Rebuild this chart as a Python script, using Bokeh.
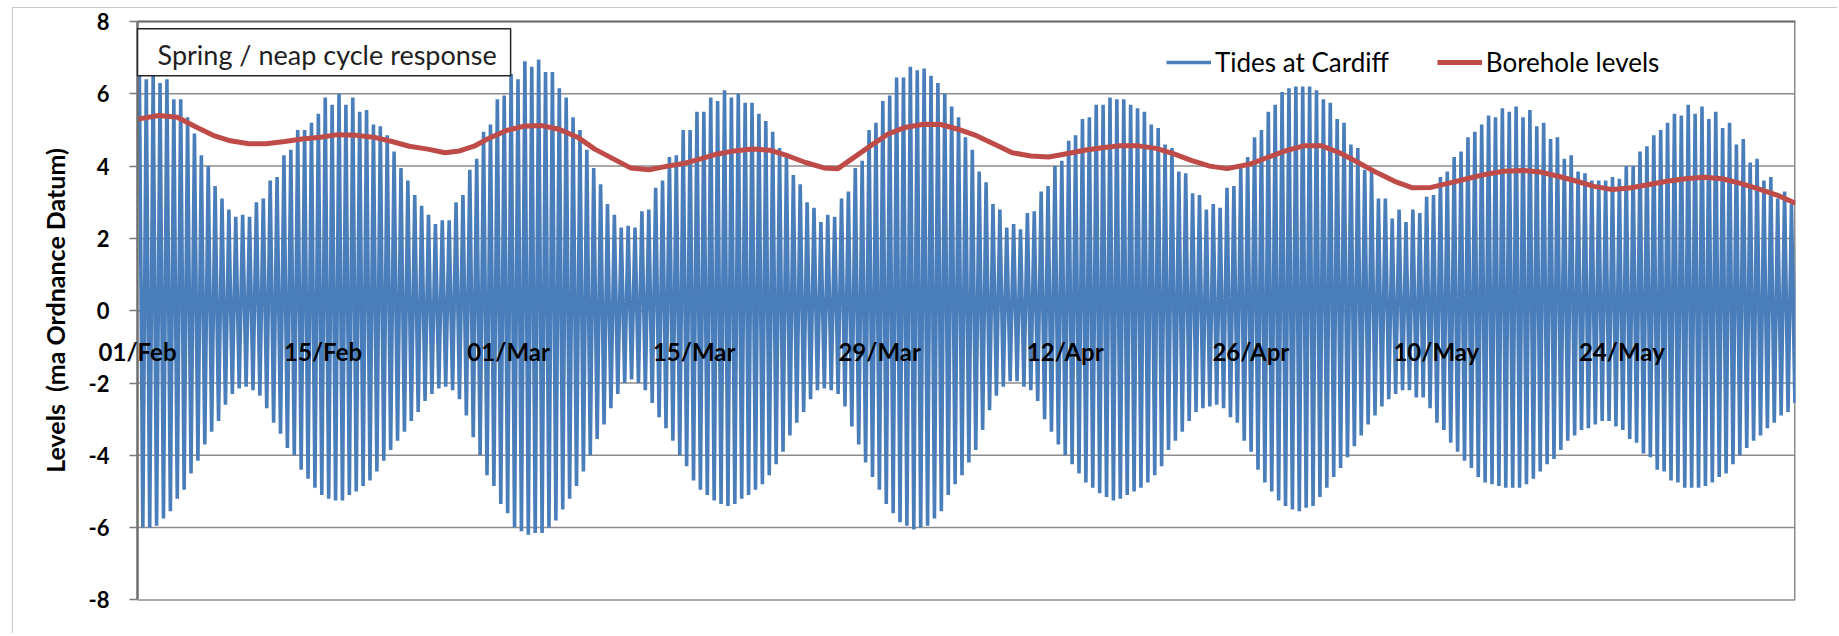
import numpy as np
from bokeh.plotting import figure
from bokeh.models import (FixedTicker, Legend, Label, BoxAnnotation, Range1d)
from bokeh.embed import file_html
from bokeh.resources import INLINE

# ---- data -------------------------------------------------------------------
# successive high waters at Cardiff (m OD), first one ~0.14 d after 01/Feb 00:00
high_water = [
    6.55, 6.4, 6.55, 6.3, 6.4, 5.85, 5.85, 5.35, 4.9, 4.3,
    4.0, 3.45, 3.1, 2.8, 2.6, 2.65, 2.6, 3.0, 3.1, 3.6,
    3.7, 4.3, 4.45, 5.0, 5.0, 5.2, 5.45, 5.9, 5.7, 6.0,
    5.7, 5.9, 5.5, 5.55, 5.15, 5.1, 4.85, 4.4, 3.95, 3.6,
    3.2, 2.9, 2.65, 2.4, 2.5, 2.5, 3.0, 3.2, 3.9, 4.2,
    4.95, 5.15, 5.85, 5.95, 6.55, 6.4, 6.9, 6.75, 6.95, 6.6,
    6.6, 6.15, 5.9, 5.35, 5.0, 4.45, 3.95, 3.5, 2.95, 2.65,
    2.3, 2.35, 2.3, 2.75, 2.8, 3.4, 3.6, 4.25, 4.3, 5.0,
    5.0, 5.5, 5.5, 5.9, 5.8, 6.1, 5.9, 6.0, 5.75, 5.75,
    5.45, 5.25, 4.95, 4.5, 4.25, 3.75, 3.5, 3.0, 2.85, 2.45,
    2.65, 2.6, 3.1, 3.3, 3.95, 4.15, 5.0, 5.2, 5.8, 5.95,
    6.45, 6.45, 6.75, 6.65, 6.7, 6.5, 6.3, 6.0, 5.65, 5.35,
    4.8, 4.45, 3.85, 3.55, 2.95, 2.8, 2.3, 2.4, 2.25, 2.7,
    2.75, 3.3, 3.45, 4.0, 4.15, 4.7, 4.85, 5.3, 5.35, 5.7,
    5.7, 5.9, 5.85, 5.85, 5.7, 5.6, 5.5, 5.15, 5.05, 4.6,
    4.5, 3.85, 3.8, 3.25, 3.2, 2.8, 2.95, 2.85, 3.4, 3.45,
    3.95, 4.25, 4.8, 5.0, 5.5, 5.7, 6.05, 6.15, 6.2, 6.2,
    6.2, 6.1, 5.85, 5.75, 5.3, 5.2, 4.6, 4.5, 3.9, 3.85,
    3.1, 3.1, 2.55, 2.8, 2.45, 2.8, 2.7, 3.15, 3.2, 3.7,
    3.85, 4.25, 4.4, 4.8, 4.95, 5.15, 5.4, 5.35, 5.6, 5.5,
    5.65, 5.35, 5.55, 5.1, 5.2, 4.75, 4.8, 4.2, 4.3, 3.85,
    3.8, 3.6, 3.6, 3.6, 3.7, 3.65, 4.0, 4.0, 4.4, 4.55,
    4.85, 5.0, 5.2, 5.45, 5.4, 5.7, 5.45, 5.65, 5.3, 5.5,
    5.05, 5.2, 4.6, 4.75, 4.1, 4.2, 3.6, 3.7, 3.1, 3.3,
    2.95, 3.1,
]
# the low water that follows each high water (m OD)
low_water = [
    -6.0, -6.0, -5.95, -5.75, -5.55, -5.2, -4.95, -4.5, -4.15, -3.7,
    -3.35, -3.05, -2.6, -2.3, -2.15, -2.1, -2.2, -2.35, -2.7, -3.1,
    -3.4, -3.8, -4.0, -4.4, -4.65, -4.9, -5.1, -5.2, -5.25, -5.25,
    -5.1, -5.0, -4.85, -4.7, -4.45, -4.15, -3.85, -3.6, -3.35, -3.05,
    -2.8, -2.5, -2.3, -2.15, -2.1, -2.2, -2.45, -2.9, -3.5, -4.0,
    -4.55, -4.85, -5.35, -5.6, -6.0, -6.1, -6.2, -6.15, -6.15, -6.0,
    -5.8, -5.5, -5.2, -4.85, -4.45, -4.0, -3.55, -3.15, -2.7, -2.3,
    -2.0, -1.9, -2.0, -2.2, -2.55, -2.95, -3.25, -3.6, -4.0, -4.3,
    -4.7, -4.95, -5.1, -5.25, -5.35, -5.4, -5.35, -5.2, -5.1, -4.95,
    -4.8, -4.55, -4.25, -3.9, -3.45, -3.1, -2.8, -2.45, -2.2, -2.15,
    -2.2, -2.3, -2.65, -3.2, -3.7, -4.2, -4.6, -4.95, -5.35, -5.6,
    -5.85, -5.95, -6.05, -6.0, -5.95, -5.75, -5.55, -5.1, -4.8, -4.55,
    -4.2, -3.85, -3.3, -2.75, -2.35, -2.1, -1.95, -1.95, -2.1, -2.2,
    -2.5, -3.0, -3.35, -3.7, -4.0, -4.25, -4.5, -4.75, -4.9, -5.05,
    -5.15, -5.25, -5.2, -5.1, -5.0, -4.9, -4.75, -4.55, -4.3, -3.85,
    -3.6, -3.35, -3.05, -2.8, -2.7, -2.65, -2.6, -2.7, -2.95, -3.1,
    -3.6, -3.9, -4.4, -4.75, -5.0, -5.25, -5.4, -5.5, -5.55, -5.45,
    -5.4, -5.15, -4.9, -4.6, -4.35, -4.05, -3.75, -3.45, -3.15, -2.9,
    -2.65, -2.45, -2.3, -2.2, -2.2, -2.4, -2.4, -2.7, -3.1, -3.3,
    -3.65, -3.9, -4.15, -4.35, -4.6, -4.75, -4.8, -4.85, -4.9, -4.9,
    -4.9, -4.8, -4.65, -4.45, -4.25, -4.1, -3.85, -3.6, -3.45, -3.3,
    -3.25, -3.15, -3.05, -3.05, -3.2, -3.3, -3.55, -3.65, -3.95, -4.05,
    -4.4, -4.45, -4.7, -4.75, -4.9, -4.9, -4.9, -4.85, -4.75, -4.6,
    -4.5, -4.25, -4.0, -3.8, -3.6, -3.45, -3.25, -3.1, -2.9, -2.8,
    -2.55, -2.5,
]
first_high_day = 0.14        # days after 01/Feb 00:00
high_water_interval = 0.5194  # days between successive high waters

borehole_day = [
    0.0, 1.6, 3.0, 4.3, 5.7, 7.0, 8.4, 9.7, 11.1, 12.4, 13.8, 15.1, 16.5, 17.8,
    19.2, 20.5, 21.9, 23.2, 24.3, 25.4, 26.4, 27.8, 29.1, 30.5, 31.8, 33.2, 34.5,
    35.9, 37.2, 38.6, 40.0, 41.3, 42.3, 43.7, 45.0, 46.4, 47.7, 49.1, 50.4, 51.8,
    52.85, 53.9, 55.3, 56.6, 57.9, 59.3, 60.6, 61.9, 63.3, 64.7, 66.0, 67.4, 68.75,
    70.1, 71.45, 72.8, 74.1, 75.5, 76.85, 78.2, 79.5, 80.9, 82.2, 83.9, 85.2, 86.6,
    88.0, 89.35, 90.7, 92.1, 93.5, 94.85, 96.2, 97.6, 98.95, 100.3, 101.7, 103.1,
    104.45, 105.8, 107.2, 108.6, 109.9, 111.3, 112.7, 114.05, 115.4, 116.8, 118.2,
    119.55, 120.9, 122.3, 123.7, 125.1,
]
borehole_level = [
    5.3, 5.4, 5.35, 5.1, 4.85, 4.7, 4.62, 4.62, 4.68, 4.75, 4.8, 4.87, 4.85, 4.8,
    4.68, 4.55, 4.47, 4.37, 4.42, 4.55, 4.75, 4.98, 5.1, 5.12, 5.02, 4.8, 4.47,
    4.2, 3.95, 3.9, 4.0, 4.08, 4.18, 4.33, 4.42, 4.47, 4.44, 4.28, 4.1, 3.95,
    3.93, 4.2, 4.56, 4.88, 5.07, 5.16, 5.15, 5.02, 4.84, 4.6, 4.37, 4.28, 4.25,
    4.34, 4.44, 4.51, 4.56, 4.56, 4.49, 4.34, 4.16, 4.0, 3.93, 4.05, 4.23, 4.42,
    4.56, 4.56, 4.37, 4.1, 3.82, 3.58, 3.4, 3.41, 3.53, 3.65, 3.77, 3.86,
    3.88, 3.84, 3.72, 3.58, 3.44, 3.35, 3.4, 3.49, 3.58, 3.65, 3.69,
    3.65, 3.53, 3.37, 3.2, 2.97,
]

tick_days = [0, 14, 28, 42, 56, 70, 84, 98, 112]
tick_labels = ["01/Feb", "15/Feb", "01/Mar", "15/Mar", "29/Mar",
               "12/Apr", "26/Apr", "10/May", "24/May"]
y_ticks = [-8, -6, -4, -2, 0, 2, 4, 6, 8]
y_tick_labels = ["-8", "-6", "-4", "-2", "0", "2", "4", "6", "8"]
last_day = 125.1

# ---- build tide trace (HW, LW, HW, LW ...) -----------------------------------
n = min(len(high_water), len(low_water))
tide_level = np.empty(2 * n)
tide_level[0::2] = high_water[:n]
tide_level[1::2] = low_water[:n]
tide_day = first_high_day + np.arange(2 * n) * (high_water_interval / 2.0)

BLUE = "#4A7EBB"
RED = "#BE4B48"
GRID = "#8C8C8C"
FONT = "Lato"

# the canvas frame is widened so the value-axis labels and the 01/Feb label
# (which overhang the plot area) are not clipped; plot area = day 0..last_day, -8..8
PX_PER_DAY = 13.249
PX_PER_UNIT = 36.15
x_start = -114.0 / PX_PER_DAY
y_top = 8 + 13.0 / PX_PER_UNIT
y_bot = y_top - 604.0 / PX_PER_UNIT

p = figure(width=1825, height=626, output_backend="svg", toolbar_location=None,
           x_range=Range1d(x_start, last_day), y_range=Range1d(y_bot, y_top),
           min_border_left=10, min_border_right=43, min_border_top=0,
           min_border_bottom=22, x_axis_location=None,
           background_fill_color="white", border_fill_color="white")
p.outline_line_color = None
p.xgrid.visible = False
p.ygrid.visible = False

# horizontal gridlines across the plot area only
p.segment(x0=0, x1=last_day, y0=y_ticks, y1=y_ticks, line_color=GRID, line_width=1.5)
# plot-area right edge
p.segment(x0=last_day, x1=last_day, y0=y_ticks[0], y1=y_ticks[-1],
          line_color=GRID, line_width=3)

r_tide = p.line(tide_day, tide_level, line_color=BLUE, line_width=3.6, line_join="bevel")
r_bore = p.line(borehole_day, borehole_level, line_color=RED, line_width=5, line_join="round")

# plot-area top edge (darker, like the axis)
p.segment(x0=0, x1=last_day, y0=y_ticks[-1], y1=y_ticks[-1], line_color="#6E6E6E",
          line_width=2)

# value axis at day 0
ya = p.yaxis[0]
ya.fixed_location = 0
ya.bounds = (y_ticks[0], y_ticks[-1])
ya.ticker = FixedTicker(ticks=y_ticks)
ya.major_label_overrides = {t: s for t, s in zip(y_ticks, y_tick_labels)}
ya.axis_label = "Levels\u00a0 (ma Ordnance Datum)"
ya.axis_label_text_font = FONT
ya.axis_label_text_font_style = "bold"
ya.axis_label_text_font_size = "25px"
ya.axis_label_text_color = "#000000"
ya.axis_label_standoff = 16
ya.major_label_text_font = FONT
ya.major_label_text_font_style = "bold"
ya.major_label_text_font_size = "22px"
ya.major_label_text_color = "#000000"
ya.major_label_standoff = 20
ya.major_tick_out = 8
ya.major_tick_in = 0
ya.minor_tick_line_color = None
ya.axis_line_color = "#6E6E6E"
ya.axis_line_width = 2.5
ya.major_tick_line_color = "#7A7A7A"
ya.major_tick_line_width = 1.5

# date labels sit next to the category axis that crosses at zero
for d, t in zip(tick_days, tick_labels):
    p.add_layout(Label(x=d, y=-1.12, text=t, text_align="center",
                       text_baseline="middle", text_font=FONT,
                       text_font_style="bold", text_font_size="24px",
                       text_color="#000000"))

# title text box
p.add_layout(BoxAnnotation(left=0, right=28.15, top=7.8, bottom=6.5,
                           fill_color="white", fill_alpha=1.0,
                           line_color="#262626", line_alpha=1.0, line_width=1.5))
p.add_layout(Label(x=1.51, y=7.08, text="Spring / neap cycle response",
                   text_font=FONT, text_font_size="27px", text_color="#1F1F1F",
                   text_baseline="middle"))

legend = Legend(items=[("Tides at Cardiff", [r_tide]), ("Borehole levels", [r_bore])],
                orientation="horizontal", location=(1143, 534),
                glyph_width=45, glyph_height=20, label_standoff=4, spacing=48,
                label_text_font=FONT, label_text_font_size="26px",
                label_text_color="#000000",
                border_line_color=None, background_fill_alpha=0)
p.add_layout(legend)

p.styles = {"margin-left": "12px", "margin-top": "7px",
            "border-left": "1px solid #C8C8C8", "border-top": "1px solid #C8C8C8"}

open("out.html", "w").write(file_html(p, INLINE))
